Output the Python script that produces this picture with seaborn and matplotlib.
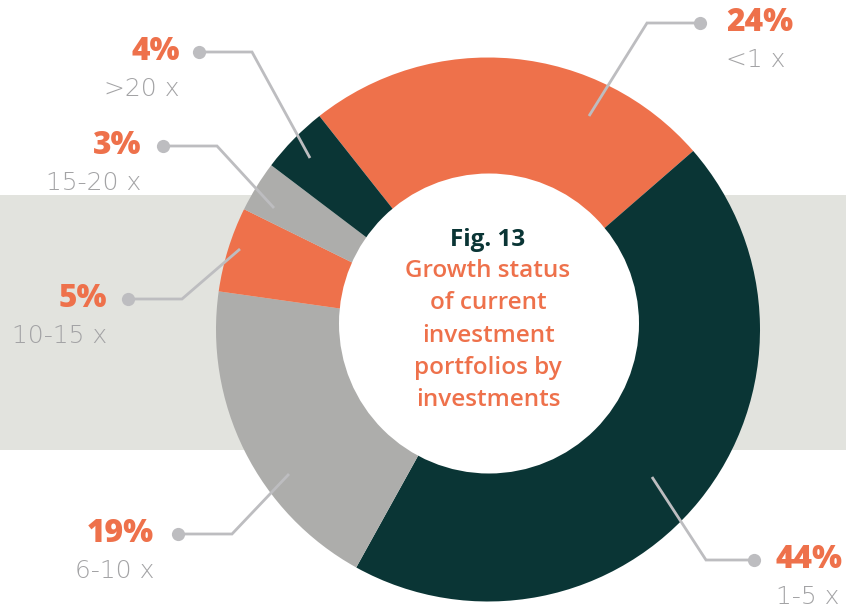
import matplotlib
matplotlib.use("Agg")
import matplotlib.pyplot as plt
from matplotlib.patches import Circle
import seaborn as sns

# ---- data ----
categories = ["<1 x", "1-5 x", "6-10 x", "10-15 x", "15-20 x", ">20 x"]
values = [24, 44, 19, 5, 3, 4]
pct_labels = ["24%", "44%", "19%", "5%", "3%", "4%"]
title_line = "Fig. 13"
subtitle_lines = ["Growth status", "of current", "investment", "portfolios by", "investments"]

# ---- style ----
ORANGE = "#ee714b"
DARK = "#0a3535"
GREY = "#adadab"
BAND = "#e2e3de"
LINE = "#bdbdc0"
LABEL_GREY = "#a3a3a5"
colors = [ORANGE, DARK, GREY, ORANGE, GREY, DARK]

sns.set_style("white")
plt.rcParams["font.family"] = ["Open Sans", "DejaVu Sans"]

W, H = 846, 611
fig = plt.figure(figsize=(W / 100, H / 100), dpi=100)
ax = fig.add_axes([0, 0, 1, 1])

def Y(y):
    return H - y

# background band
ax.axhspan(Y(450), Y(195), color=BAND, zorder=0, lw=0)

# donut
cx, cy, R = 488, 329.5, 272
ax.pie(values, colors=colors, startangle=128.3, counterclock=False,
       center=(cx, Y(cy)), radius=R, wedgeprops=dict(linewidth=0))
ax.add_patch(Circle((489, Y(323.5)), 150, color="white", zorder=3, lw=0))

# leader lines: (start, elbow, dot) in image px, text anchor x, align
leaders = [
    ((589, 116), (647, 23), (700, 23), 726, "left"),
    ((652, 477), (706, 560), (754, 560), 776, "left"),
    ((289, 474), (232, 534), (178, 534), 154, "right"),
    ((240, 249), (182, 299), (128, 299), 107, "right"),
    ((274, 208), (217, 146), (163, 146), 141, "right"),
    ((310, 158), (252, 52), (199, 52), 180, "right"),
]

for (s, e, d, tx, ha), pct, cat in zip(leaders, pct_labels, categories):
    ax.plot([s[0], e[0], d[0]], [Y(s[1]), Y(e[1]), Y(d[1])], color=LINE,
            lw=2.0, zorder=5, solid_capstyle="butt", solid_joinstyle="miter")
    ax.plot([d[0]], [Y(d[1])], "o", color=LINE, ms=9.5, zorder=6, mew=0)
    ax.text(tx, Y(d[1]), pct, ha=ha, va="center", fontsize=22.8,
            fontweight="heavy", color=ORANGE, zorder=7)
    ax.text(tx, Y(d[1] + 37), cat, ha=ha, va="center", fontsize=18,
            family=["DejaVu Sans"], fontweight="light", color=LABEL_GREY, zorder=7)

# center text
ax.text(488, Y(240), title_line, ha="center", va="center", fontsize=17.5,
        fontweight="bold", color=DARK, zorder=7)
for i, line in enumerate(subtitle_lines):
    ax.text(488, Y(271 + i * 32.3), line, ha="center", va="center",
            fontsize=17.5, fontweight="semibold", color=ORANGE, zorder=7)

ax.set_xlim(0, W)
ax.set_ylim(0, H)
ax.set_aspect("auto")
ax.axis("off")

fig.savefig("out.png", dpi=100, facecolor="white")
